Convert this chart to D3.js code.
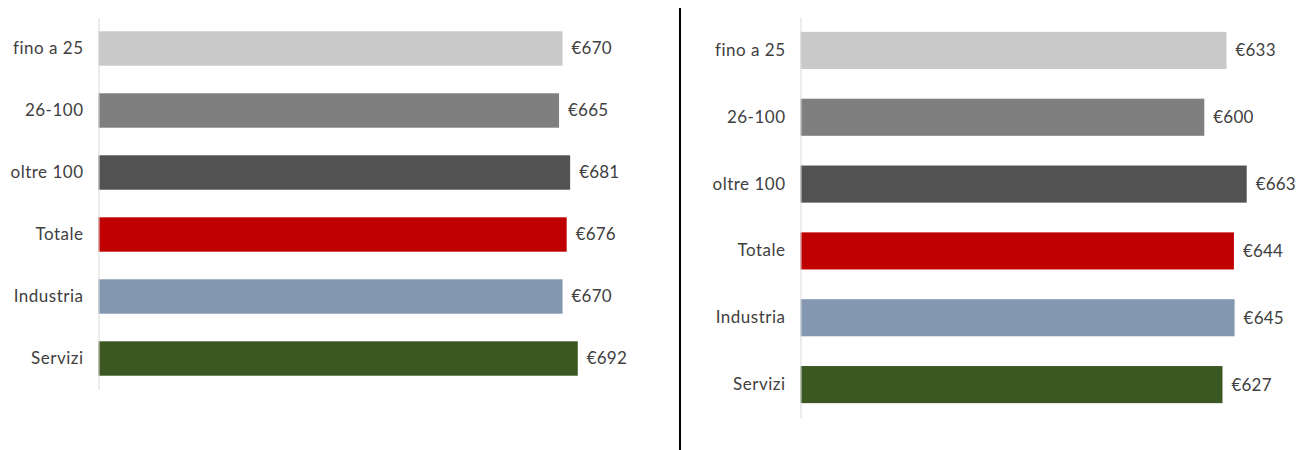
<!DOCTYPE html>
<html>
<head>
<meta charset="utf-8">
<script src="https://cdn.jsdelivr.net/npm/d3@7/dist/d3.min.js"></script>
<style>
html,body{margin:0;padding:0;background:#fff;}
svg{display:block;}
text{font-family:Lato,"Open Sans",sans-serif;fill:#404040;font-variant-ligatures:none;}
</style>
</head>
<body>
<svg id="chart" width="1304" height="450"></svg>
<script>
const categories = ["fino a 25", "26-100", "oltre 100", "Totale", "Industria", "Servizi"];
const colors = ["#c9c9c9", "#7f7f7f", "#525252", "#c00000", "#8497b0", "#3b5823"];
const valuesLeft = [670, 665, 681, 676, 670, 692];
const valuesRight = [633, 600, 663, 644, 645, 627];

const svg = d3.select("#chart");

function panel(values, x0, x1, y0, y1) {
  const g = svg.append("g");
  const x = d3.scaleLinear().domain([0, 700]).range([x0, x1]);
  const y = d3.scaleBand().domain(categories).range([y0, y1]).paddingInner(0.445).paddingOuter(0.2225);
  const data = categories.map((c, i) => ({c, v: values[i], col: colors[i]}));
  g.selectAll("rect.bar").data(data).enter().append("rect")
    .attr("class", "bar")
    .attr("x", x(0))
    .attr("y", d => y(d.c))
    .attr("width", d => x(d.v) - x(0))
    .attr("height", y.bandwidth())
    .attr("fill", d => d.col);
  const axis = d3.axisLeft(y).tickSize(0).tickPadding(15);
  const ag = g.append("g").attr("transform", `translate(${x(0)},0)`).call(axis);
  ag.select(".domain").attr("stroke", "#d9d9d9").attr("stroke-width", 1);
  ag.selectAll("text").attr("font-size", 17).attr("fill", "#404040")
    .style("font-family", "Lato, 'Open Sans', sans-serif")
    .style("letter-spacing", "0.5px");
  g.selectAll("text.val").data(data).enter().append("text")
    .attr("class", "val")
    .attr("x", d => x(d.v) + 9)
    .attr("y", d => y(d.c) + y.bandwidth() / 2)
    .attr("dy", "0.35em")
    .attr("font-size", 17)
    .style("letter-spacing", "0.2px")
    .text(d => "€" + d.v);
}

panel(valuesLeft, 98.5, 583.3, 17.5, 389.5);
panel(valuesRight, 800.5, 1271.6, 17, 418);

svg.append("line").attr("x1", 680).attr("x2", 680).attr("y1", 8).attr("y2", 450)
  .attr("stroke", "#000").attr("stroke-width", 2);
</script>
</body>
</html>
